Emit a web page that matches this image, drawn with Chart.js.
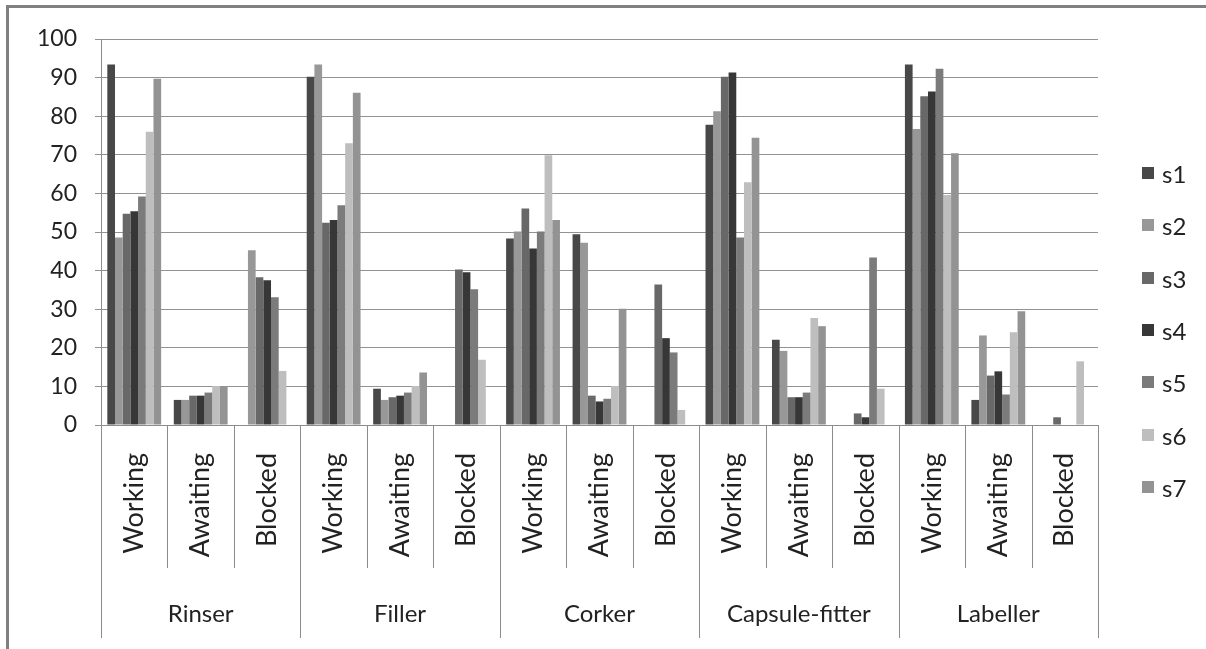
<!DOCTYPE html>
<html>
<head>
<meta charset="utf-8">
<script src="https://cdn.jsdelivr.net/npm/chart.js@4"></script>
<style>
  body { margin: 0; background: #fff; }
  #wrap { position: relative; width: 1206px; height: 649px; overflow: hidden; }
  #frame {
    position: absolute; left: 6px; top: 5px; right: 0; bottom: 0;
    border-left: 3px solid #808080; border-top: 3px solid #808080;
    pointer-events: none;
  }
  #legend { position: absolute; left: 1142px; top: 0; font-family: Lato, sans-serif; }
  .legend-item { position: absolute; left: 0; display: flex; align-items: center; height: 30px; white-space: nowrap; }
  .legend-color { width: 12px; height: 12px; margin-right: 8px; }
  .legend-text { font-size: 24px; color: #222; }
</style>
</head>
<body>
<div id="wrap">
  <canvas id="chartCanvas" width="1206" height="649"></canvas>
  <div id="legend"></div>
  <div id="frame"></div>
</div>
<script>
const states = ['Working', 'Awaiting', 'Blocked'];
const machines = ['Rinser', 'Filler', 'Corker', 'Capsule-fitter', 'Labeller'];
const categories = machines.flatMap(() => states);
const yTicks = [0, 10, 20, 30, 40, 50, 60, 70, 80, 90, 100];

const seriesNames = ['s1', 's2', 's3', 's4', 's5', 's6', 's7'];
const seriesColors = ['#484848', '#989898', '#686868', '#373737', '#7b7b7b', '#bebebe', '#939393'];

// values per category: Rinser W/A/B, Filler W/A/B, Corker W/A/B, Capsule-fitter W/A/B, Labeller W/A/B
const s1 = [93.4, 6.5, 0, 90.2, 9.4, 0, 48.3, 49.4, 0, 77.8, 22.1, 0, 93.4, 6.5, 0];
const s2 = [48.6, 6.5, 45.3, 93.4, 6.5, 0, 50.1, 47.2, 0, 81.3, 19.2, 0, 76.7, 23.2, 0];
const s3 = [54.7, 7.6, 38.3, 52.4, 7.2, 40.3, 56.1, 7.6, 36.4, 90.2, 7.2, 3.0, 85.2, 12.8, 2.0];
const s4 = [55.4, 7.6, 37.5, 53.1, 7.6, 39.6, 45.7, 6.1, 22.5, 91.3, 7.2, 2.0, 86.4, 13.9, 0];
const s5 = [59.2, 8.4, 33.1, 56.9, 8.4, 35.2, 50.1, 6.8, 18.8, 48.6, 8.4, 43.4, 92.3, 7.9, 0];
const s6 = [76.0, 10.1, 14.0, 73.0, 10.1, 16.9, 69.9, 10.1, 3.9, 62.9, 27.7, 9.4, 59.6, 24.0, 16.5];
const s7 = [89.7, 10.1, 0, 86.1, 13.6, 0, 53.1, 30.1, 0, 74.4, 25.6, 0, 70.4, 29.5, 0];
const seriesValues = [s1, s2, s3, s4, s5, s6, s7];

const FONT = 'Lato, sans-serif';

// Separator lines under the x axis and the machine group labels
const groupAxisPlugin = {
  id: 'groupAxis',
  afterDraw(chart) {
    const ctx = chart.ctx;
    const x = chart.scales.x;
    const area = chart.chartArea;
    const w = (area.right - area.left) / categories.length;
    ctx.save();
    ctx.strokeStyle = '#8c8c8c';
    ctx.lineWidth = 1;
    for (let i = 0; i <= categories.length; i++) {
      const px = Math.round(area.left + i * w) + 0.5;
      const end = i % states.length === 0 ? 638 : 568;
      ctx.beginPath();
      ctx.moveTo(px, area.bottom);
      ctx.lineTo(px, end);
      ctx.stroke();
    }
    ctx.fillStyle = '#222';
    ctx.font = '24px ' + FONT;
    ctx.textAlign = 'center';
    ctx.textBaseline = 'middle';
    machines.forEach((m, g) => {
      const cx = x.getPixelForValue(g * states.length + 1);
      ctx.fillText(m, cx, 614);
    });
    ctx.restore();
  }
};

const ctx = document.getElementById('chartCanvas').getContext('2d');
new Chart(ctx, {
  type: 'bar',
  data: {
    labels: categories,
    datasets: seriesNames.map((name, i) => ({
      label: name,
      data: seriesValues[i],
      backgroundColor: seriesColors[i],
      borderWidth: 0,
      categoryPercentage: 0.81,
      barPercentage: 1.0
    }))
  },
  options: {
    responsive: false,
    animation: false,
    layout: { padding: { top: 39, right: 108, bottom: 10, left: 0 } },
    plugins: {
      legend: { display: false },
      tooltip: { enabled: false }
    },
    scales: {
      x: {
        grid: { display: false, drawTicks: false },
        border: { display: true, color: '#8c8c8c', width: 1 },
        ticks: {
          minRotation: 90,
          maxRotation: 90,
          autoSkip: false,
          padding: 28,
          color: '#222',
          font: { family: FONT, size: 27 }
        },
        afterFit(scale) { scale.height = 214; }
      },
      y: {
        min: 0,
        max: 100,
        afterBuildTicks(scale) { scale.ticks = yTicks.map(v => ({ value: v })); },
        grid: { color: '#929292', lineWidth: 1, tickLength: 6 },
        border: { display: true, color: '#8c8c8c', width: 1 },
        ticks: {
          padding: 18,
          color: '#222',
          font: { family: FONT, size: 23 }
        },
        afterFit(scale) { scale.width = 101; }
      }
    }
  },
  plugins: [groupAxisPlugin]
});

// Legend on the right
const legend = document.getElementById('legend');
const legendCenters = [173, 225, 278, 330, 382, 435, 487];
seriesNames.forEach((name, i) => {
  const item = document.createElement('div');
  item.className = 'legend-item';
  item.style.top = (legendCenters[i] - 15) + 'px';
  const box = document.createElement('div');
  box.className = 'legend-color';
  box.style.backgroundColor = seriesColors[i];
  const text = document.createElement('span');
  text.className = 'legend-text';
  text.textContent = name;
  item.appendChild(box);
  item.appendChild(text);
  legend.appendChild(item);
});
</script>
</body>
</html>
